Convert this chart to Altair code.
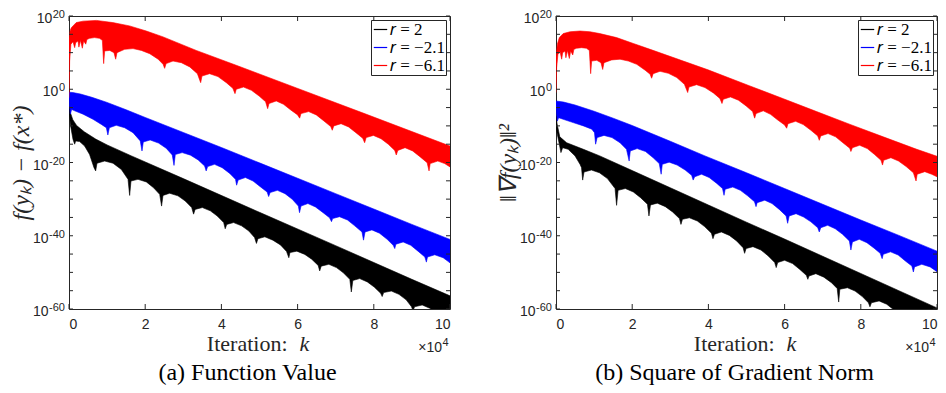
import altair as alt
import pandas as pd

# ---------------- data (k in units of 1e4 iterations, values as log10 exponents) ----------------
SERIES = ["𝑟 = 2", "𝑟 = −2.1", "𝑟 = −6.1"]
COLORS = ["#000000", "#0000ff", "#ff0000"]

X_TICKS = [0, 2, 4, 6, 8, 10]
Y_MINOR_EXP = [-60, -55, -50, -45, -40, -35, -30, -25, -20, -15, -10, -5, 0, 5, 10, 15, 20]
Y_LABEL_EXP = [-60, -40, -20, 0, 20]

# ---- panel (a): function value ----
A_BLACK_UP_K = [0, 0.04, 0.1, 0.2, 0.4, 0.7, 1.0, 1.64, 3.0, 5.0, 7.0, 9.0, 10.0]
A_BLACK_UP_E = [-4.6, -6.5, -8.3, -9.9, -11.6, -13.6, -15.2, -18.2, -24.4, -33.6, -42.7, -51.9, -56.4]
A_BLACK_LO_K = [0, 0.035, 0.105, 0.149, 0.175, 0.28, 0.41, 0.54, 0.656, 0.70,
                0.735, 0.936, 1.155, 1.374, 1.549, 1.592,
                1.627, 1.811, 2.03, 2.22, 2.38, 2.43,
                2.467, 2.642, 2.86, 3.05, 3.22, 3.27,
                3.31, 3.50, 3.71, 3.89, 4.06, 4.10,
                4.14, 4.32, 4.53, 4.72, 4.87, 4.92,
                4.96, 5.14, 5.35, 5.55, 5.71, 5.77,
                5.80, 5.98, 6.19, 6.37, 6.54, 6.58,
                6.62, 6.82, 7.02, 7.20, 7.37, 7.41,
                7.45, 7.63, 7.83, 8.01, 8.18, 8.22,
                8.26, 8.46, 8.66, 8.85, 8.99, 9.03,
                9.07, 9.27, 9.47, 9.64, 10.0]
A_BLACK_LO_E = [-5.0, -9.6, -13.7, -15.0, -14.1, -14.3, -15.5, -17.8, -21.4, -22.3,
                -20.2, -19.6, -20.2, -21.9, -24.6, -29.0,
                -25.05, -24.6, -25.3, -26.9, -28.7, -31.9,
                -29.0, -28.4, -29.1, -30.5, -32.3, -34.1,
                -32.8, -32.3, -33.2, -34.6, -36.4, -38.1,
                -36.9, -36.4, -37.3, -38.7, -40.5, -42.1,
                -40.8, -40.3, -41.2, -42.5, -44.3, -46.0,
                -44.6, -44.2, -45.1, -46.4, -48.1, -49.6,
                -48.3, -47.8, -48.7, -50.1, -51.9, -55.35,
                -52.2, -51.7, -52.6, -54.0, -55.7, -56.6,
                -55.5, -55.1, -56.0, -57.5, -59.4, -60.5,
                -59.4, -58.9, -59.8, -61.2, -63.7]

A_BLUE_UP_K = [0, 0.1, 0.3, 0.6, 1.0, 1.5, 2.0, 3.0, 4.0, 5.0, 6.0, 7.0, 8.0, 9.0, 10.0]
A_BLUE_UP_E = [-0.8, -0.9, -1.3, -2.2, -3.6, -5.6, -7.7, -11.8, -15.9, -20.1, -24.3, -28.5, -32.7, -36.9, -41.0]
A_BLUE_LO_K = [0, 0.035, 0.07, 0.15, 0.37, 0.63, 0.85, 0.98, 1.02,
               1.06, 1.24, 1.46, 1.68, 1.87, 1.916,
               1.95, 2.13, 2.35, 2.55, 2.71, 2.756,
               2.79, 2.97, 3.19, 3.39, 3.56, 3.60,
               3.64, 3.82, 4.02, 4.22, 4.37, 4.40,
               4.44, 4.63, 4.83, 5.02, 5.20, 5.24,
               5.28, 5.47, 5.67, 5.86, 6.02, 6.05,
               6.09, 6.27, 6.47, 6.67, 6.84, 6.89,
               6.92, 7.10, 7.31, 7.50, 7.69, 7.73,
               7.77, 7.95, 8.15, 8.35, 8.51, 8.55,
               8.58, 8.77, 8.97, 9.16, 9.34, 9.38,
               9.41, 9.60, 9.82, 10.0]
A_BLUE_LO_E = [-2.75, -6.8, -5.5, -5.9, -6.8, -8.2, -9.6, -10.5, -12.5,
               -10.5, -9.85, -10.5, -11.85, -14.1, -16.85,
               -14.4, -13.85, -14.7, -16.1, -17.95, -20.8,
               -17.8, -17.3, -18.0, -19.3, -20.95, -22.3,
               -21.1, -20.5, -21.4, -23.0, -24.6, -26.2,
               -24.8, -24.1, -25.05, -26.6, -28.05, -29.3,
               -28.2, -27.6, -28.5, -30.05, -31.9, -33.7,
               -31.9, -31.2, -32.15, -33.7, -35.1, -36.15,
               -35.3, -34.8, -35.7, -37.3, -38.97, -41.2,
               -38.97, -38.4, -39.3, -40.97, -42.6, -43.5,
               -42.3, -41.7, -42.6, -44.2, -45.8, -47.2,
               -45.8, -45.2, -46.0, -47.4]

A_RED_UP_K = [0, 0.03, 0.06, 0.19, 0.37, 0.72, 1.15, 1.59, 2.03, 2.47, 3.34, 4.44, 5.97, 7.72, 10.0]
A_RED_UP_E = [14.0, 16.0, 16.8, 18.2, 18.6, 18.8, 18.2, 17.3, 15.9, 14.3, 10.6, 6.35, 0.35, -6.5, -15.5]
A_RED_LO_K = [0, 0.017, 0.05, 0.105, 0.149, 0.175, 0.236, 0.26, 0.30, 0.35, 0.385, 0.44, 0.47, 0.54,
              0.67, 0.80, 0.875, 0.91, 0.936, 1.07, 1.18, 1.225, 1.26, 1.46, 1.68, 1.90, 2.12, 2.34, 2.47, 2.51,
              2.55, 2.73, 2.95, 3.17, 3.37, 3.456,
              3.49, 3.69, 3.91, 4.13, 4.30, 4.357,
              4.39, 4.58, 4.79, 4.99, 5.16, 5.214,
              5.25, 5.44, 5.63, 5.82, 6.0, 6.054,
              6.09, 6.29, 6.49, 6.69, 6.87, 6.91,
              6.95, 7.14, 7.34, 7.53, 7.71, 7.76,
              7.80, 7.99, 8.19, 8.38, 8.55, 8.59,
              8.63, 8.82, 9.02, 9.21, 9.40, 9.45,
              9.48, 9.68, 9.86, 10.0]
A_RED_LO_E = [-2.3, 7.7, 12.3, 13.0, 11.35, 12.7, 13.2, 11.5, 13.35, 11.2, 13.2, 12.3, 13.6, 13.9,
              14.1, 13.9, 13.35, 7.0, 10.45, 10.6, 10.0, 8.2, 10.0, 10.9, 11.1, 10.6, 9.7, 8.2, 6.8, 5.7,
              7.0, 7.7, 7.25, 6.1, 4.25, 1.8,
              3.6, 4.25, 3.45, 1.8, 0.25, -1.2,
              0.0, 0.6, -0.3, -1.85, -3.4, -5.3,
              -3.9, -3.2, -4.1, -5.65, -7.0, -7.9,
              -6.65, -6.1, -7.0, -8.65, -10.2, -11.2,
              -10.0, -9.4, -10.3, -11.85, -13.4, -14.6,
              -13.2, -12.6, -13.5, -15.0, -16.7, -17.95,
              -16.7, -15.95, -16.85, -18.4, -20.05, -22.3,
              -20.3, -19.6, -20.3, -21.2]

# ---- panel (b): square of gradient norm ----
B_BLACK_UP_K = [0, 0.03, 0.1, 0.28, 0.72, 1.15, 2.0, 3.0, 4.0, 5.0, 6.0, 7.0, 8.0, 9.0, 10.0]
B_BLACK_UP_E = [-7.3, -9.5, -13.0, -14.6, -16.4, -18.2, -22.2, -26.9, -31.6, -36.3, -40.9, -45.6, -50.3, -55.0, -59.7]
B_BLACK_LO_K = [0, 0.017, 0.087, 0.13, 0.175, 0.32, 0.50, 0.63, 0.67, 0.70,
                0.735, 0.93, 1.14, 1.35, 1.55, 1.59,
                1.63, 1.82, 2.03, 2.22, 2.40, 2.44,
                2.48, 2.66, 2.87, 3.06, 3.24, 3.28,
                3.32, 3.50, 3.71, 3.90, 4.08, 4.12,
                4.16, 4.34, 4.55, 4.74, 4.91, 4.95,
                4.99, 5.17, 5.38, 5.57, 5.74, 5.78,
                5.82, 6.00, 6.21, 6.40, 6.57, 6.61,
                6.64, 6.82, 7.03, 7.23, 7.38, 7.42,
                7.45, 7.65, 7.85, 8.04, 8.20, 8.24,
                8.28, 8.48, 8.68, 8.85, 9.12, 10.0]
B_BLACK_LO_E = [-7.3, -11.4, -15.0, -17.3, -15.95, -16.4, -18.2, -20.5, -21.4, -24.8,
                -22.6, -22.05, -22.8, -24.4, -27.1, -31.7,
                -27.6, -27.1, -28.05, -29.6, -31.4, -34.6,
                -31.6, -31.1, -32.05, -33.5, -35.3, -36.9,
                -35.5, -35.1, -35.97, -37.5, -39.3, -40.8,
                -39.6, -38.97, -39.9, -41.4, -43.25, -44.8,
                -43.5, -42.97, -43.9, -45.5, -47.3, -48.7,
                -47.3, -46.7, -47.6, -49.2, -50.8, -51.9,
                -51.0, -50.35, -51.3, -52.8, -54.4, -58.1,
                -54.6, -54.2, -55.1, -56.6, -58.3, -59.4,
                -58.3, -57.8, -58.7, -60.1, -62.8, -68.0]

B_BLUE_UP_K = [0, 0.2, 0.5, 1.0, 1.5, 2.0, 3.0, 3.91, 5.0, 6.0, 7.0, 8.0, 9.0, 10.0]
B_BLUE_UP_E = [-3.2, -3.5, -4.3, -6.0, -7.9, -9.9, -14.2, -18.2, -22.8, -27.1, -31.4, -35.7, -39.9, -44.2]
B_BLUE_LO_K = [0, 0.035, 0.07, 0.19, 0.45, 0.72, 0.94, 1.01, 1.04,
               1.08, 1.26, 1.47, 1.68, 1.85, 1.92,
               1.95, 2.13, 2.35, 2.55, 2.71, 2.76,
               2.79, 2.97, 3.18, 3.39, 3.56, 3.60,
               3.64, 3.82, 4.02, 4.22, 4.37, 4.41,
               4.44, 4.64, 4.84, 5.03, 5.21, 5.25,
               5.28, 5.48, 5.67, 5.86, 6.04, 6.08,
               6.12, 6.30, 6.50, 6.69, 6.87, 6.91,
               6.95, 7.13, 7.33, 7.52, 7.70, 7.74,
               7.78, 7.96, 8.16, 8.35, 8.51, 8.56,
               8.59, 8.78, 8.98, 9.17, 9.34, 9.38,
               9.41, 9.60, 9.82, 10.0]
B_BLUE_LO_E = [-5.0, -8.7, -7.75, -8.2, -9.1, -10.0, -10.9, -11.85, -15.0,
               -13.2, -12.6, -13.2, -14.6, -16.4, -19.6,
               -16.85, -16.2, -17.0, -18.7, -20.3, -23.2,
               -20.5, -19.9, -20.7, -22.05, -23.5, -24.8,
               -23.9, -23.2, -24.1, -25.7, -27.1, -28.96,
               -27.3, -26.7, -27.6, -29.1, -30.7, -32.05,
               -30.96, -30.3, -31.2, -32.8, -34.6, -36.6,
               -34.6, -33.97, -34.9, -36.2, -37.8, -38.97,
               -37.8, -37.15, -38.1, -39.6, -41.4, -43.9,
               -41.7, -40.97, -41.9, -43.4, -44.8, -46.25,
               -45.07, -44.4, -45.25, -46.9, -48.25, -49.9,
               -48.5, -47.8, -48.5, -49.8]

B_RED_UP_K = [0, 0.035, 0.087, 0.19, 0.37, 0.63, 0.89, 1.15, 1.59, 2.03, 2.47, 3.34, 3.99, 5.09, 5.97, 6.84, 7.72, 8.59, 9.47, 10.0]
B_RED_UP_E = [9.0, 12.3, 14.1, 15.2, 15.7, 15.9, 15.7, 15.2, 14.1, 12.5, 10.9, 7.7, 5.3, 0.9, -2.6, -6.1, -9.6, -13.0, -16.4, -18.3]
B_RED_LO_K = [0, 0.017, 0.05, 0.105, 0.149, 0.175, 0.236, 0.26, 0.30, 0.35, 0.385, 0.44, 0.47, 0.54,
              0.67, 0.80, 0.875, 0.91, 0.936, 1.07, 1.18, 1.225, 1.26, 1.46, 1.68, 1.90, 2.12, 2.34, 2.47, 2.51,
              2.55, 2.73, 2.95, 3.17, 3.37, 3.456,
              3.49, 3.69, 3.91, 4.13, 4.30, 4.357,
              4.39, 4.58, 4.79, 4.99, 5.16, 5.214,
              5.25, 5.44, 5.63, 5.82, 6.0, 6.054,
              6.09, 6.29, 6.49, 6.69, 6.87, 6.91,
              6.95, 7.14, 7.34, 7.53, 7.71, 7.74,
              7.78, 7.97, 8.17, 8.36, 8.53, 8.57,
              8.60, 8.79, 8.99, 9.19, 9.38, 9.45,
              9.48, 9.68, 9.86, 10.0]
B_RED_LO_E = [-0.9, 5.9, 9.5, 10.3, 8.2, 10.0, 10.45, 8.6, 10.6, 8.4, 10.45, 9.35, 10.9, 11.2,
              11.35, 11.2, 10.6, 4.25, 7.7, 7.9, 7.25, 5.4, 7.25, 8.0, 8.2, 7.7, 6.8, 5.2, 4.1, 3.0,
              4.25, 4.9, 4.35, 3.2, 1.35, -0.9,
              0.6, 1.25, 0.45, -1.0, -2.5, -3.9,
              -2.75, -2.1, -3.0, -4.55, -6.1, -7.9,
              -6.65, -5.9, -6.85, -8.4, -9.75, -10.65,
              -9.4, -8.75, -9.65, -11.2, -12.75, -13.95,
              -12.75, -12.1, -13.0, -14.6, -16.1, -17.0,
              -15.95, -15.3, -16.2, -17.8, -19.4, -20.7,
              -19.4, -18.7, -19.6, -21.1, -22.8, -25.05,
              -23.2, -22.5, -23.2, -23.9]

# ---------------- chart ----------------
W, H = 381, 293
AX = "#262626"
SANS = "Liberation Sans"
SERIF = "Liberation Serif"


def panel(bands, ytitle, caption):
    rows = []
    for name, (uk, ue, lk, le) in zip(SERIES, bands):
        pts = list(zip(uk, ue)) + list(zip(lk, le))[::-1]
        for i, (k, e) in enumerate(pts):
            rows.append({"k": k, "v": 10.0 ** e, "s": name, "o": i})
    df = pd.DataFrame(rows)

    xs = alt.Scale(domain=[0, 10], nice=False, zero=False)
    ys = alt.Scale(type="log", domain=[1e-60, 1e20], nice=False)
    cs = alt.Scale(domain=SERIES, range=COLORS)

    xaxis = alt.Axis(
        values=X_TICKS, ticks=False, domain=False, grid=False,
        labelFont=SANS, labelFontSize=14, labelColor=AX, labelPadding=8, title=None)
    yaxis = alt.Axis(
        values=[10.0 ** e for e in Y_LABEL_EXP], labels=False,
        ticks=False, domain=False, grid=False,
        title=ytitle, titleFont=SERIF, titleFontSize=24, titleFontWeight="normal",
        titleFontStyle="italic", titleColor=AX, titleX=-48, titleY=H / 2, titleAngle=270,
        titleBaseline="middle", titleAlign="center")

    X = alt.X("k:Q", scale=xs, axis=xaxis)
    Y = alt.Y("v:Q", scale=ys, axis=yaxis)

    band = alt.Chart(df).mark_line(clip=True, strokeWidth=0.6).encode(
        x=X, y=Y,
        color=alt.Color("s:N", scale=cs, legend=alt.Legend(
            title=None, orient="top-right", offset=4, fillColor="white",
            strokeColor=AX, padding=1, labelFont=SERIF, labelFontSize=17,
            labelColor="#000000", symbolType="stroke", symbolSize=180,
            symbolStrokeWidth=1.2, rowPadding=0, labelOffset=1)),
        fill=alt.Fill("s:N", scale=cs, legend=None),
        order=alt.Order("o:Q"),
    )

    ydf = pd.DataFrame({"v": [10.0 ** e for e in Y_MINOR_EXP]})
    xdf = pd.DataFrame({"k": X_TICKS})
    yl = alt.Chart(ydf).mark_rule(color=AX, strokeWidth=1).encode(
        y=Y, x=alt.value(0), x2=alt.value(4))
    yr = alt.Chart(ydf).mark_rule(color=AX, strokeWidth=1).encode(
        y=Y, x=alt.value(W - 4), x2=alt.value(W))
    xb = alt.Chart(xdf).mark_rule(color=AX, strokeWidth=1).encode(
        x=X, y=alt.value(H - 5), y2=alt.value(H))
    xt = alt.Chart(xdf).mark_rule(color=AX, strokeWidth=1).encode(
        x=X, y=alt.value(0), y2=alt.value(5))

    # y tick labels: "10" with a raised exponent
    ylab = pd.DataFrame({"v": [10.0 ** e for e in Y_LABEL_EXP], "e": [str(e) for e in Y_LABEL_EXP]})
    expo = alt.Chart(ylab).mark_text(
        font=SANS, fontSize=11, color=AX, align="right", baseline="alphabetic", dy=2).encode(
        x=alt.value(-4), y=Y, text="e:N")
    base = alt.Chart(ylab).transform_calculate(
        px="-4.5 - 6.1 * length(replace(datum.e, '-', '')) - (indexof(datum.e, '-') >= 0 ? 3.7 : 0)"
    ).mark_text(
        font=SANS, fontSize=14, color=AX, align="right", baseline="alphabetic", dy=7, text="10").encode(
        x=alt.X("px:Q", scale=None), y=Y)

    # x-axis title and multiplier
    it1 = alt.Chart(pd.DataFrame({"t": ["Iteration:"]})).mark_text(
        font=SERIF, fontSize=22, color=AX, align="right", baseline="middle").encode(
        x=alt.value(W / 2 + 28), y=alt.value(H + 35), text="t:N")
    it2 = alt.Chart(pd.DataFrame({"t": ["k"]})).mark_text(
        font=SERIF, fontSize=22, fontStyle="italic", color=AX, align="left", baseline="middle").encode(
        x=alt.value(W / 2 + 40), y=alt.value(H + 35), text="t:N")
    m1 = alt.Chart(pd.DataFrame({"t": ["×10"]})).mark_text(
        font=SANS, fontSize=14, color=AX, align="right", baseline="middle").encode(
        x=alt.value(W - 8), y=alt.value(H + 39), text="t:N")
    m2 = alt.Chart(pd.DataFrame({"t": ["4"]})).mark_text(
        font=SANS, fontSize=11, color=AX, align="left", baseline="middle").encode(
        x=alt.value(W - 7.5), y=alt.value(H + 34), text="t:N")
    cap = alt.Chart(pd.DataFrame({"t": [caption]})).mark_text(
        font=SERIF, fontSize=24, color="#000000", align="center", baseline="middle").encode(
        x=alt.value(W / 2 - 12), y=alt.value(H + 64), text="t:N")

    return alt.layer(band, yl, yr, xb, xt, expo, base, it1, it2, m1, m2, cap).properties(
        width=W, height=H, view=alt.ViewBackground(stroke=AX, strokeWidth=1, fill="white"))


left = panel(
    [(A_BLACK_UP_K, A_BLACK_UP_E, A_BLACK_LO_K, A_BLACK_LO_E),
     (A_BLUE_UP_K, A_BLUE_UP_E, A_BLUE_LO_K, A_BLUE_LO_E),
     (A_RED_UP_K, A_RED_UP_E, A_RED_LO_K, A_RED_LO_E)],
    "f(yₖ) − f(x*)", "(a) Function Value")
right = panel(
    [(B_BLACK_UP_K, B_BLACK_UP_E, B_BLACK_LO_K, B_BLACK_LO_E),
     (B_BLUE_UP_K, B_BLUE_UP_E, B_BLUE_LO_K, B_BLUE_LO_E),
     (B_RED_UP_K, B_RED_UP_E, B_RED_LO_K, B_RED_LO_E)],
    "‖∇f(yₖ)‖²", "(b) Square of Gradient Norm")

chart = alt.hconcat(left, right, spacing=106, bounds="flush").resolve_scale(
    color="independent", fill="independent", x="independent", y="independent"
).properties(
    padding={"left": 0, "top": 0, "right": 0, "bottom": 0}
).configure_view(stroke=AX, strokeWidth=1).configure(background="white")

chart.save("out.html", embed_options={"renderer": "svg", "actions": False})
